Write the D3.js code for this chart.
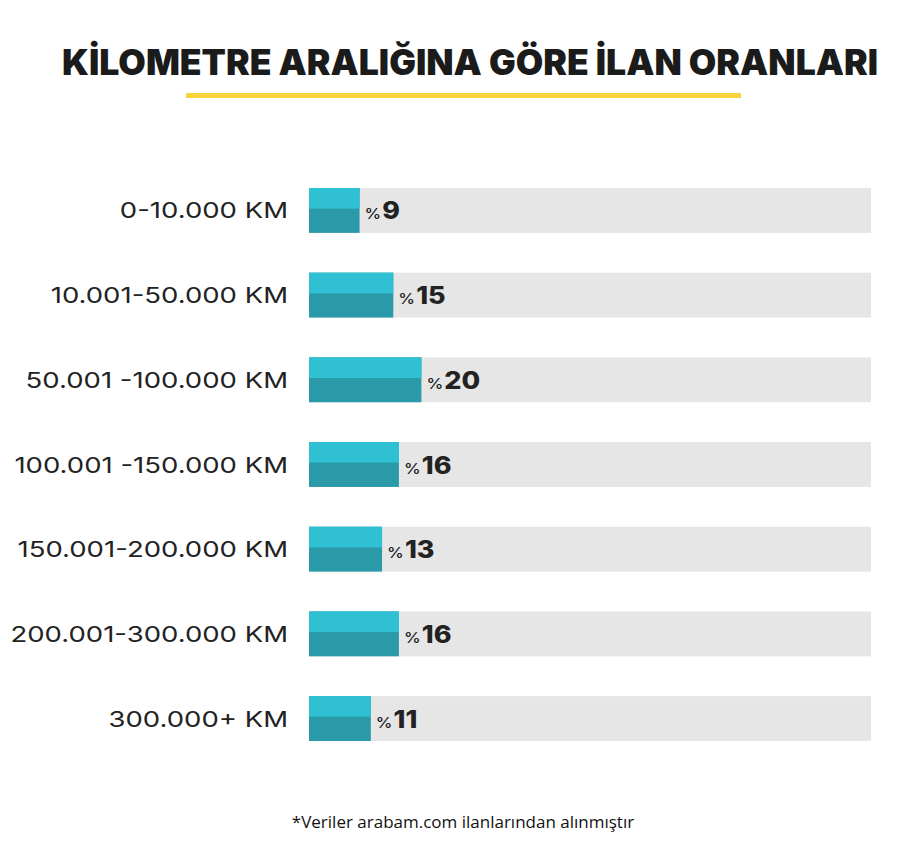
<!DOCTYPE html>
<html>
<head>
<meta charset="utf-8">
<script src="https://cdn.jsdelivr.net/npm/d3@7"></script>
<style>
  html, body { margin: 0; padding: 0; background: #ffffff; }
  svg { display: block; }
</style>
</head>
<body>
<svg id="chart" width="900" height="846"></svg>
<script>
const title = "KİLOMETRE ARALIĞINA GÖRE İLAN ORANLARI";
const categories = [
  "0-10.000 KM",
  "10.001-50.000 KM",
  "50.001 -100.000 KM",
  "100.001 -150.000 KM",
  "150.001-200.000 KM",
  "200.001-300.000 KM",
  "300.000+ KM"
];
const values = [9, 15, 20, 16, 13, 16, 11];
const footnote = "*Veriler arabam.com ilanlarından alınmıştır";

const svg = d3.select("#chart");

// widen a text element horizontally (mimics a wide geometric typeface)
function widen(sel, factor) {
  sel.each(function () {
    const len = this.getComputedTextLength();
    d3.select(this).attr("textLength", len * factor).attr("lengthAdjust", "spacingAndGlyphs");
  });
}

// Title
svg.append("text")
  .attr("x", 62).attr("y", 75)
  .attr("textLength", 816)
  .attr("lengthAdjust", "spacingAndGlyphs")
  .style("font-family", "Inter, 'Noto Sans', sans-serif")
  .style("font-weight", 900)
  .style("font-size", "35px")
  .style("fill", "#1b1b1b")
  .text(title);

// Yellow underline
svg.append("rect")
  .attr("x", 186).attr("y", 93)
  .attr("width", 555).attr("height", 5)
  .attr("fill", "#f6d53b");

const data = categories.map((c, i) => ({ cat: c, val: values[i] }));

const x = d3.scaleLinear().domain([0, 100]).range([309, 871]);
const y = d3.scaleBand().domain(categories).range([188, 741]).paddingInner(0.47).paddingOuter(0);

const rows = svg.append("g").selectAll("g.row").data(data).join("g").attr("class", "row");

// background track
rows.append("rect")
  .attr("x", x(0)).attr("y", d => y(d.cat))
  .attr("width", x(100) - x(0)).attr("height", y.bandwidth())
  .attr("fill", "#e6e6e6");

// bar bottom (dark)
rows.append("rect")
  .attr("x", x(0)).attr("y", d => y(d.cat))
  .attr("width", d => x(d.val) - x(0)).attr("height", y.bandwidth())
  .attr("fill", "#2b9aa8");

// bar top (light)
rows.append("rect")
  .attr("x", x(0)).attr("y", d => y(d.cat))
  .attr("width", d => x(d.val) - x(0)).attr("height", y.bandwidth() * 0.46)
  .attr("fill", "#2fc0d3");

// category labels
const cl = rows.append("text")
  .attr("x", 288)
  .attr("y", d => y(d.cat) + y.bandwidth() / 2 + 8)
  .attr("text-anchor", "end")
  .style("font-family", "Inter, 'Noto Sans', sans-serif")
  .style("font-weight", 400)
  .style("font-size", "22px")
  .style("fill", "#222")
  .text(d => d.cat);
widen(cl, 1.25);

// value labels
const vl = rows.append("text")
  .attr("x", d => x(d.val) + 5)
  .attr("y", d => y(d.cat) + y.bandwidth() / 2 + 9)
  .style("font-family", "Inter, 'Noto Sans', sans-serif")
  .style("fill", "#222");
vl.append("tspan")
  .style("font-size", "15px").style("font-weight", 500)
  .text("%");
vl.append("tspan")
  .attr("dx", 1)
  .style("font-size", "24px").style("font-weight", 800)
  .text(d => d.val);
widen(vl, 1.15);

// footnote
svg.append("text")
  .attr("x", 463).attr("y", 828)
  .attr("text-anchor", "middle")
  .style("font-family", "'Open Sans', sans-serif")
  .style("font-size", "17px")
  .style("fill", "#111")
  .text(footnote);
</script>
</body>
</html>
